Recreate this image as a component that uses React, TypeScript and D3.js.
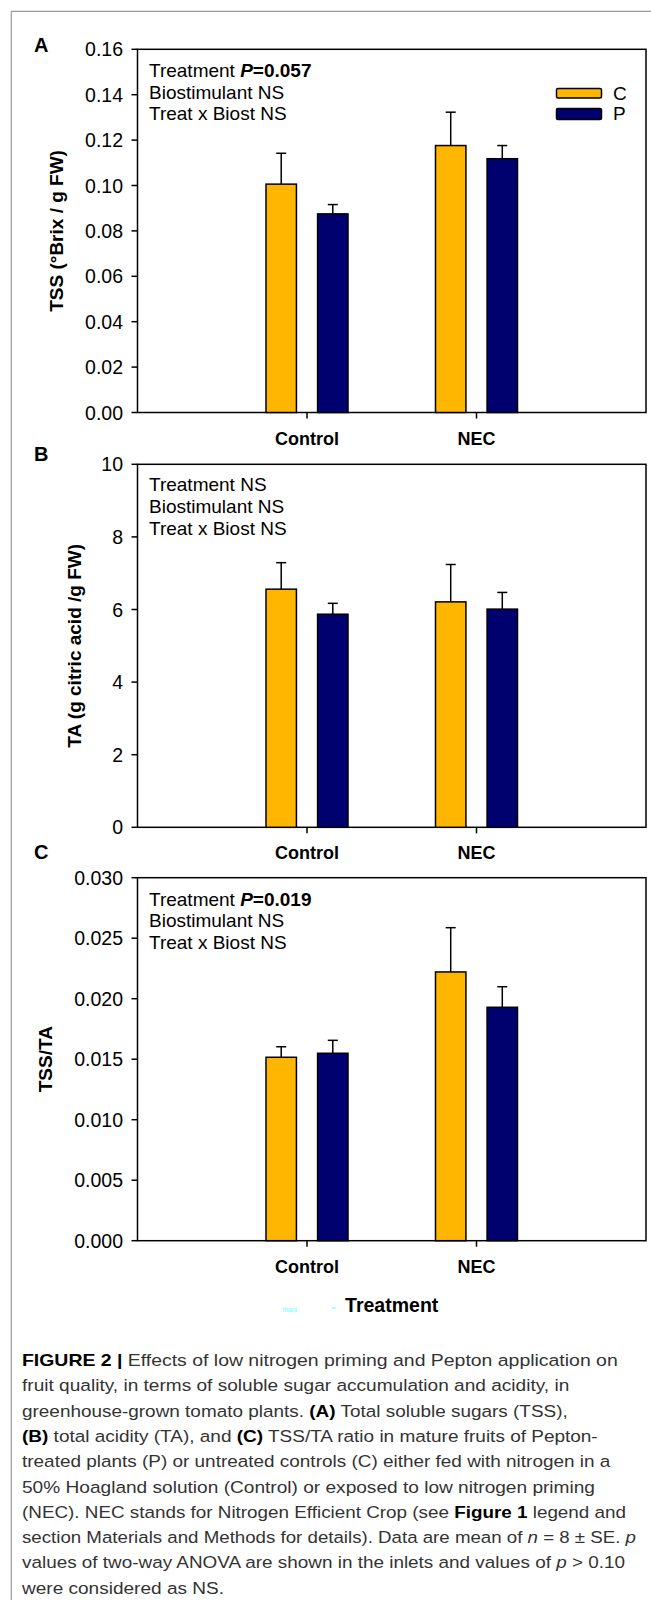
import React from "react";
import * as d3 from "d3";

const categories = ["Control", "NEC"];
const series = ["C", "P"];
const seriesColors = ["#FFB600", "#00006E"];

// Panel A: TSS (°Brix / g FW)
const tssMean = [[0.1006, 0.0875], [0.1176, 0.1118]];
const tssSE = [[0.0136, 0.0041], [0.0147, 0.0058]];
const tssTicks = [0, 0.02, 0.04, 0.06, 0.08, 0.1, 0.12, 0.14, 0.16];

// Panel B: TA
const taMean = [[6.56, 5.87], [6.21, 6.01]];
const taSE = [[0.73, 0.3], [1.03, 0.46]];
const taTicks = [0, 2, 4, 6, 8, 10];

// Panel C: TSS/TA
const ratioMean = [[0.01516, 0.01549], [0.02221, 0.01929]];
const ratioSE = [[0.00087, 0.00107], [0.00366, 0.0017]];
const ratioTicks = [0, 0.005, 0.01, 0.015, 0.02, 0.025, 0.03];

const FONT = "'Liberation Sans', Arial, sans-serif";
const X_LEFT = 137.5;
const X_RIGHT = 646;

type Stat = { label: string; bold?: string };

type PanelProps = {
  letter: string;
  letterY: number;
  top: number;
  bottom: number;
  domainMax: number;
  ticks: number[];
  fmt: (v: number) => string;
  mean: number[][];
  se: number[][];
  yLabel: string;
  yLabelX: number;
  stats: Stat[];
  statsY: number[];
  legend?: boolean;
};

function Panel(p: PanelProps) {
  const x = d3.scaleLinear().domain([0, 3]).range([X_LEFT, X_RIGHT]);
  const y = d3.scaleLinear().domain([0, p.domainMax]).range([p.bottom, p.top]);
  const inner = d3.scaleBand().domain(series).range([-41, 41]).paddingInner(0.41);
  const bw = inner.bandwidth();
  const capHalf = 5;
  return (
    <g>
      <text x={34} y={p.letterY} fontFamily={FONT} fontWeight="bold" fontSize={20} fill="#000">{p.letter}</text>
      <rect x={X_LEFT} y={p.top} width={X_RIGHT - X_LEFT} height={p.bottom - p.top} fill="none" stroke="#000" strokeWidth={1.5} />
      {p.ticks.map((t, i) => (
        <g key={i}>
          <line x1={X_LEFT - 6} x2={X_LEFT} y1={y(t)} y2={y(t)} stroke="#000" strokeWidth={1.5} />
          <text x={123} y={y(t)} dy="0.36em" textAnchor="end" fontFamily={FONT} fontSize={19.5} fill="#000">{p.fmt(t)}</text>
        </g>
      ))}
      {categories.map((c, ci) => (
        <g key={c}>
          <line x1={x(ci + 1)} x2={x(ci + 1)} y1={p.bottom} y2={p.bottom + 6} stroke="#000" strokeWidth={1.5} />
          <text x={x(ci + 1)} y={p.bottom + 32} textAnchor="middle" fontFamily={FONT} fontWeight="bold" fontSize={18} fill="#000">{c}</text>
        </g>
      ))}
      {categories.map((c, ci) =>
        series.map((s, si) => {
          const cx = x(ci + 1) + (inner(s) as number);
          const v = p.mean[ci][si];
          const e = v + p.se[ci][si];
          const mid = cx + bw / 2;
          return (
            <g key={c + s}>
              <line x1={mid} x2={mid} y1={y(v)} y2={y(e)} stroke="#000" strokeWidth={1.5} />
              <line x1={mid - capHalf} x2={mid + capHalf} y1={y(e)} y2={y(e)} stroke="#000" strokeWidth={1.5} />
              <rect x={cx} y={y(v)} width={bw} height={y(0) - y(v)} fill={seriesColors[si]} stroke="#000" strokeWidth={1.5} />
            </g>
          );
        })
      )}
      {p.stats.map((s, i) => (
        <text key={i} x={149} y={p.statsY[i]} fontFamily={FONT} fontSize={19} fill="#000">
          {s.label}
          {s.bold ? (
            <tspan fontWeight="bold">
              <tspan fontStyle="italic">P</tspan>
              {s.bold}
            </tspan>
          ) : null}
        </text>
      ))}
      <text
        transform={`translate(${p.yLabelX},${(p.top + p.bottom) / 2}) rotate(-90)`}
        textAnchor="middle"
        dominantBaseline="central"
        fontFamily={FONT}
        fontWeight="bold"
        fontSize={19}
        fill="#000"
      >
        {p.yLabel}
      </text>
      {p.legend ? (
        <g>
          {series.map((s, si) => (
            <g key={s}>
              <rect x={556.5} y={88.5 + si * 20} width={45} height={si === 0 ? 9.5 : 11} rx={1.5} fill={seriesColors[si]} stroke="#000" strokeWidth={1.5} />
              <text x={613} y={99.5 + si * 20.5} fontFamily={FONT} fontSize={19} fill="#000">{s}</text>
            </g>
          ))}
        </g>
      ) : null}
    </g>
  );
}

const captionStarts = 22;
const captionEnds = [617.7, 569.3, 567.7, 597.7, 610.3, 595, 626, 636, 625, 224];

export default function App() {
  const capY = (i: number) => 1366 + i * 25.3;
  const capProps = (i: number) => ({
    x: captionStarts,
    y: capY(i),
    fontFamily: FONT,
    fontSize: 16.3,
    fill: "#333",
    textLength: captionEnds[i] - captionStarts,
    lengthAdjust: "spacingAndGlyphs" as const,
  });
  return (
    <svg width={651} height={1603} style={{ position: "absolute", left: 0, top: 0, background: "#fff" }}>
      <rect x={0} y={0} width={651} height={1603} fill="#fff" />
      <line x1={11.3} x2={651} y1={11.3} y2={11.3} stroke="#999" strokeWidth={1.2} />
      <line x1={11.3} x2={11.3} y1={11.3} y2={1600} stroke="#999" strokeWidth={1.2} />

      <Panel
        letter="A"
        letterY={52.3}
        top={49.3}
        bottom={412.5}
        domainMax={0.16}
        ticks={tssTicks}
        fmt={d3.format(".2f")}
        mean={tssMean}
        se={tssSE}
        yLabel="TSS (°Brix / g FW)"
        yLabelX={56}
        stats={[{ label: "Treatment ", bold: "=0.057" }, { label: "Biostimulant NS" }, { label: "Treat x Biost NS" }]}
        statsY={[77, 98.5, 120]}
        legend
      />
      <Panel
        letter="B"
        letterY={460.5}
        top={464.3}
        bottom={827.3}
        domainMax={10}
        ticks={taTicks}
        fmt={d3.format("d")}
        mean={taMean}
        se={taSE}
        yLabel="TA (g citric acid /g FW)"
        yLabelX={74}
        stats={[{ label: "Treatment NS" }, { label: "Biostimulant NS" }, { label: "Treat x Biost NS" }]}
        statsY={[491, 513, 535]}
      />
      <Panel
        letter="C"
        letterY={858.7}
        top={877.7}
        bottom={1240.7}
        domainMax={0.03}
        ticks={ratioTicks}
        fmt={d3.format(".3f")}
        mean={ratioMean}
        se={ratioSE}
        yLabel="TSS/TA"
        yLabelX={45.7}
        stats={[{ label: "Treatment ", bold: "=0.019" }, { label: "Biostimulant NS" }, { label: "Treat x Biost NS" }]}
        statsY={[906, 927, 948.5]}
      />

      <text x={391.7} y={1312} textAnchor="middle" fontFamily={FONT} fontWeight="bold" fontSize={19.5} fill="#000">Treatment</text>
      <text x={282} y={1312} fontFamily={FONT} fontSize={7} fill="#4ff" opacity={0.8}>mani</text>
      <line x1={332} x2={335.5} y1={1308} y2={1308} stroke="#4ff" strokeWidth={1} />

      <text {...capProps(0)}>
        <tspan fontWeight="bold" fill="#000">FIGURE 2 | </tspan>Effects of low nitrogen priming and Pepton application on
      </text>
      <text {...capProps(1)}>fruit quality, in terms of soluble sugar accumulation and acidity, in</text>
      <text {...capProps(2)}>
        greenhouse-grown tomato plants. <tspan fontWeight="bold" fill="#000">(A)</tspan> Total soluble sugars (TSS),
      </text>
      <text {...capProps(3)}>
        <tspan fontWeight="bold" fill="#000">(B)</tspan> total acidity (TA), and <tspan fontWeight="bold" fill="#000">(C)</tspan> TSS/TA ratio in mature fruits of Pepton-
      </text>
      <text {...capProps(4)}>treated plants (P) or untreated controls (C) either fed with nitrogen in a</text>
      <text {...capProps(5)}>50% Hoagland solution (Control) or exposed to low nitrogen priming</text>
      <text {...capProps(6)}>
        (NEC). NEC stands for Nitrogen Efficient Crop (see <tspan fontWeight="bold" fill="#000">Figure 1</tspan> legend and
      </text>
      <text {...capProps(7)}>
        section Materials and Methods for details). Data are mean of <tspan fontStyle="italic">n</tspan> = 8 ± SE. <tspan fontStyle="italic">p</tspan>
      </text>
      <text {...capProps(8)}>
        values of two-way ANOVA are shown in the inlets and values of <tspan fontStyle="italic">p</tspan> &gt; 0.10
      </text>
      <text {...capProps(9)}>were considered as NS.</text>
    </svg>
  );
}
